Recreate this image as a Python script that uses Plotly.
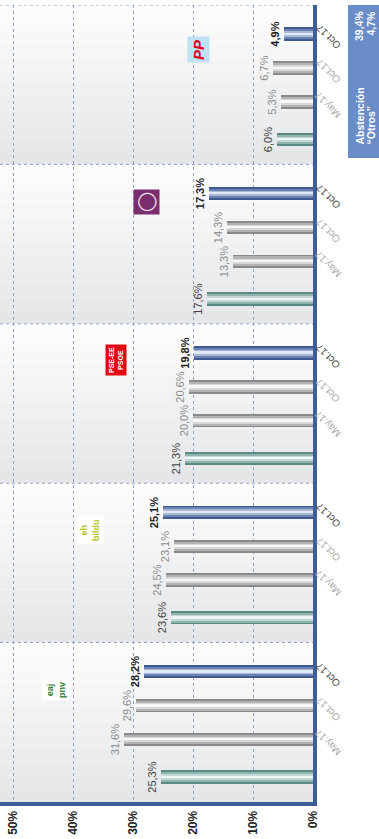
import plotly.graph_objects as go

# ---------------- data ----------------
parties = ["PP", "Podemos", "PSOE", "EH Bildu", "EAJ-PNV"]
series_names = ["Oct.17 (a)", "Oct.17 (b)", "May.17", "Elecciones"]
tick_names = ["Oct.17", "Oct.17", "May.17", ""]
oct17_a = [4.9, 17.3, 19.8, 25.1, 28.2]
oct17_b = [6.7, 14.3, 20.6, 23.1, 29.6]
may17 = [5.3, 13.3, 20.0, 24.5, 31.6]
elecciones = [6.0, 17.6, 21.3, 23.6, 25.3]
series_values = [oct17_a, oct17_b, may17, elecciones]
x_ticks = [0, 10, 20, 30, 40, 50]
x_tick_labels = ["0%", "10%", "20%", "30%", "40%", "50%"]
box_labels = ["Abstención", "“Otros”"]
box_values = ["39,4%", "4,7%"]

# ---------------- layout helpers ----------------
GROUP = 5.0
SLOT = [0.91, 1.98, 3.04, 4.22]
BAR_W = 0.42
PLOT_W = 313.0
PX_PER_UNIT = 797.0 / 25.0

def ypx(px):
    return (px - 5) / PX_PER_UNIT

def xp(px):
    return px / PLOT_W

def fmt(v):
    return ("%.1f" % v).replace(".", ",") + "%"

FONT = "Liberation Sans, Arial"
styles = [
    dict(cols=["#3d5a8f", "#6b82b3", "#a9b8d6", "#e3e9f4"], tcol="#1e1e1e", bold=True, tickcol="#444444"),
    dict(cols=["#8a8a8a", "#b3b3b3", "#d8d8d8", "#f8f8f8"], tcol="#8c8c8c", bold=False, tickcol="#a8a8a8"),
    dict(cols=["#8a8a8a", "#b3b3b3", "#d8d8d8", "#f8f8f8"], tcol="#8c8c8c", bold=False, tickcol="#a8a8a8"),
    dict(cols=["#5b8a84", "#8fb3ae", "#c3d8d5", "#eef5f4"], tcol="#404040", bold=False, tickcol="#a8a8a8"),
]
fracs = [1.0, 0.72, 0.42, 0.14]

fig = go.Figure()
ann = []
for s, vals in enumerate(series_values):
    ys = [g * GROUP + SLOT[s] for g in range(len(parties))]
    st = styles[s]
    for k, (c, f) in enumerate(zip(st["cols"], fracs)):
        txt = None
        if k == 0:
            txt = [("<b>%s</b>" % fmt(v)) if st["bold"] else fmt(v) for v in vals]
        fig.add_trace(go.Bar(
            x=vals, y=ys, orientation="h", width=BAR_W * f,
            marker=dict(color=c, line=dict(width=0)),
            text=txt, textposition="outside" if k == 0 else "none",
            textangle=-90, constraintext="none", cliponaxis=False,
            textfont=dict(family=FONT, size=11, color=st["tcol"]),
            hoverinfo="skip", showlegend=False, name=series_names[s]))
    if tick_names[s]:
        for y in ys:
            ann.append(dict(xref="paper", yref="y", x=xp(328), y=y + 3 / PX_PER_UNIT,
                            text=tick_names[s], textangle=-135, showarrow=False,
                            xanchor="center", yanchor="middle",
                            font=dict(family=FONT, size=10, color=st["tickcol"])))

shapes = []
NSTRIP = 12
for g in range(len(parties)):
    for i in range(NSTRIP):
        t = i / (NSTRIP - 1)
        c0, c1 = (252, 252, 252), (229, 230, 232)
        col = "rgb(%d,%d,%d)" % tuple(int(round(a + (b - a) * t)) for a, b in zip(c0, c1))
        shapes.append(dict(type="rect", xref="paper", yref="y", x0=0, x1=1,
                           y0=g * GROUP + i * GROUP / NSTRIP, y1=g * GROUP + (i + 1) * GROUP / NSTRIP,
                           fillcolor=col, line=dict(width=0), layer="below"))
for g in range(len(parties)):
    shapes.append(dict(type="line", xref="paper", yref="y", x0=0, x1=1, y0=g * GROUP, y1=g * GROUP,
                       line=dict(color="#8fa3cc", width=1, dash="dot"), layer="below"))
shapes.append(dict(type="rect", xref="paper", yref="y", x0=xp(348), x1=xp(385),
                   y0=ypx(-6), y1=ypx(158), fillcolor="#6a8cc7", line=dict(width=0)))

for i, (lab, val) in enumerate(zip(box_labels, box_values)):
    xc = xp([359, 370][i])
    ann.append(dict(xref="paper", yref="y", x=xc, y=ypx(147), text="<b>%s</b>" % lab,
                    textangle=-90, showarrow=False, xanchor="center", yanchor="bottom",
                    font=dict(family=FONT, size=10.5, color="white")))
    ann.append(dict(xref="paper", yref="y", x=xc, y=ypx(9), text="<b>%s</b>" % val,
                    textangle=-90, showarrow=False, xanchor="center", yanchor="top",
                    font=dict(family=FONT, size=10.5, color="white")))

logos = [
    dict(x=198, y=50, text="<b><i>PP</i></b>", color="#e2001a", bg="#bfe2f2", size=15),
    dict(x=146, y=202, text="◯", color="#f3e6f0", bg="#7b2d6e", size=18),
    dict(x=116, y=360, text="<b>PSE-EE<br>PSOE</b>", color="white", bg="#e30613", size=7),
    dict(x=76, y=530, text="<b>eh<br>bildu</b>", color="#b5c21c", bg="#ffffff", size=9),
    dict(x=42, y=690, text="<b>eaj<br>pnv</b>", color="#2e7d32", bg="#ffffff", size=9),
]
for L in logos:
    ann.append(dict(xref="paper", yref="y", x=xp(L["x"]), y=ypx(L["y"]), text=L["text"],
                    textangle=-90, showarrow=False, bgcolor=L["bg"], borderpad=2,
                    font=dict(family=FONT, size=L["size"], color=L["color"])))

fig.update_layout(
    width=379, height=839,
    margin=dict(l=0, r=379 - PLOT_W, t=5, b=37, autoexpand=False),
    paper_bgcolor="white", plot_bgcolor="white",
    barmode="overlay", bargap=0,
    shapes=shapes, annotations=ann,
    xaxis=dict(range=[52.2, 0], tickvals=x_ticks,
               ticktext=["<b>%s</b>" % t for t in x_tick_labels], tickangle=-90,
               showgrid=True, gridcolor="#8fa3cc", griddash="dot", gridwidth=1,
               showline=True, linecolor="#3c5f99", linewidth=4, zeroline=False,
               tickfont=dict(family=FONT, size=12, color="#222222"),
               ticks="", automargin=False, fixedrange=True),
    yaxis=dict(range=[25, 0], side="right", showticklabels=False,
               showgrid=False, zeroline=False,
               showline=True, linecolor="#3c5f99", linewidth=4,
               ticks="", automargin=False, fixedrange=True),
)

fig.write_html("out.html", config={"displayModeBar": False},
               post_script="document.body.style.margin='0px';document.body.style.overflow='hidden';")
